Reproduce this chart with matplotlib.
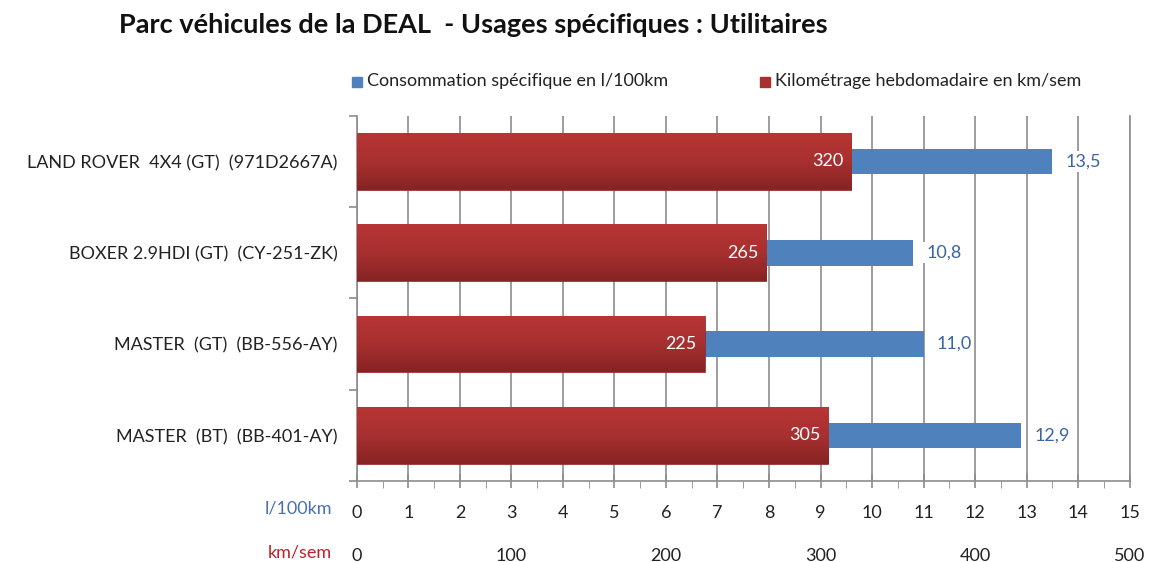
import numpy as np
import matplotlib.pyplot as plt
from matplotlib.ticker import MultipleLocator
from matplotlib.colors import LinearSegmentedColormap

plt.rcParams['font.family'] = ['Lato', 'DejaVu Sans']

vehicules = ["MASTER  (BT)  (BB-401-AY)", "MASTER  (GT)  (BB-556-AY)",
             "BOXER 2.9HDI (GT)  (CY-251-ZK)", "LAND ROVER  4X4 (GT)  (971D2667A)"]
conso = [12.9, 11.0, 10.8, 13.5]        # l/100km
km_sem = [305, 225, 265, 320]           # km/sem

blue = "#4f81bd"
red = "#a8302f"
fs = 13

fig = plt.figure(figsize=(11.55, 5.62), dpi=100)
ax = fig.add_axes([0.309, 0.144, 0.669, 0.650])

y = range(len(vehicules))
ax.barh(y, conso, height=0.28, color=blue, zorder=2)
# red bars use the km/sem scale (0-500) mapped on the 0-15 axis
red_bars = ax.barh(y, [k * 15 / 500 for k in km_sem], height=0.62, color=red, zorder=3,
                   edgecolor="#8a2424", linewidth=0.5)

# vertical gradient on the red bars: light on top, dark at the bottom
cmap = LinearSegmentedColormap.from_list("rouge", ["#b83535", "#a83030", "#872323"])
grad = np.linspace(0, 1, 100).reshape(-1, 1)
for b in red_bars:
    x0, y0, w, h = b.get_x(), b.get_y(), b.get_width(), b.get_height()
    im = ax.imshow(grad, cmap=cmap, aspect="auto", origin="upper",
                   extent=(x0, x0 + w, y0, y0 + h), zorder=3.1)
    im.set_clip_path(b)

for i, (c, k) in enumerate(zip(conso, km_sem)):
    ax.text(k * 15 / 500 - 0.15, i, str(k), color="white", ha="right", va="center",
            fontsize=fs, zorder=4)
    ax.text(c + 0.25, i, f"{c:.1f}".replace(".", ","), color="#3a65a0", ha="left",
            va="center", fontsize=fs, zorder=4,
            bbox=dict(facecolor="white", edgecolor="none", pad=2))

ax.set_xlim(0, 15)
ax.set_ylim(-0.5, 3.5)
ax.xaxis.set_major_locator(MultipleLocator(1))
ax.xaxis.set_minor_locator(MultipleLocator(0.5))
ax.grid(axis="x", color="#8c8c8c", linewidth=1.2, zorder=0)
ax.set_axisbelow(True)
ax.tick_params(axis="x", which="major", direction="inout", length=10, width=1.2,
               color="#8c8c8c", labelsize=fs, pad=12, labelcolor="#222222")
ax.tick_params(axis="x", which="minor", direction="out", length=5, color="#8c8c8c")

ax.set_yticks([i + 0.5 for i in range(-1, 4)], minor=False)
ax.set_yticklabels([])
ax.set_yticks(list(y), minor=True)
ax.set_yticklabels(vehicules, minor=True)
ax.tick_params(axis="y", which="major", direction="out", length=6, color="#8c8c8c", width=1.2)
ax.tick_params(axis="y", which="minor", length=0, labelsize=fs, pad=14, labelcolor="#222222")

ax.spines["top"].set_visible(False)
for s in ["left", "right", "bottom"]:
    ax.spines[s].set_color("#8c8c8c")
    ax.spines[s].set_linewidth(1.2)

# second scale km/sem
ax2 = ax.twiny()
ax2.set_xlim(0, 500)
ax2.xaxis.set_ticks_position("bottom")
ax2.xaxis.set_label_position("bottom")
ax2.spines["bottom"].set_position(("outward", 38))
for s in ax2.spines.values():
    s.set_visible(False)
ax2.set_xticks([0, 100, 200, 300, 400, 500])
ax2.tick_params(axis="x", length=0, labelsize=fs, labelcolor="#222222", pad=10)

ax.text(-0.032, -0.075, "l/100km", transform=ax.transAxes, ha="right", va="center",
        color="#4a70b0", fontsize=fs)
ax.text(-0.032, -0.195, "km/sem", transform=ax.transAxes, ha="right", va="center",
        color="#c0202a", fontsize=fs)

fig.text(0.103, 0.955, "Parc véhicules de la DEAL  - Usages spécifiques : Utilitaires",
         fontsize=19.5, fontweight="bold", ha="left", va="center", color="#111111")

# legend
fig.patches.append(plt.Rectangle((352 / 1155, 1 - 87 / 562), 10 / 1155, 10 / 562,
                                 transform=fig.transFigure, color=blue))
fig.text(367 / 1155, 1 - 81 / 562, "Consommation spécifique en l/100km", fontsize=fs,
         va="center", color="#222222")
fig.patches.append(plt.Rectangle((760 / 1155, 1 - 87 / 562), 10 / 1155, 10 / 562,
                                 transform=fig.transFigure, color=red))
fig.text(775 / 1155, 1 - 81 / 562, "Kilométrage hebdomadaire en km/sem", fontsize=fs,
         va="center", color="#222222")

fig.savefig("out.png", dpi=100)
